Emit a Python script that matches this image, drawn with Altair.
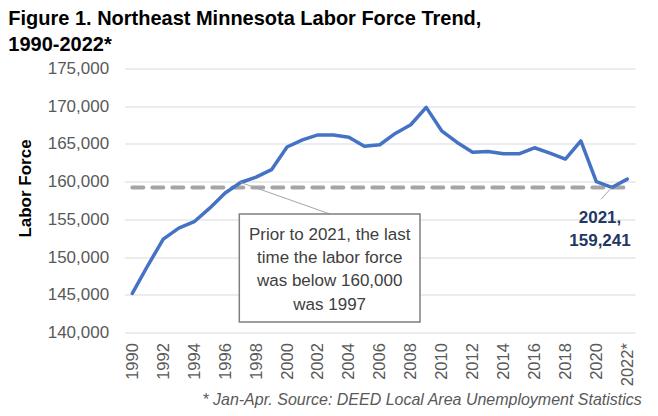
import altair as alt
import pandas as pd

# ---------------- data ----------------
years = list(range(1990, 2023))
labor_force = [145200, 148900, 152400, 153850, 154700, 156500, 158500, 159900,
               160600, 161600, 164600, 165550, 166200, 166200, 165900, 164700,
               164900, 166400, 167550, 169850, 166750, 165200, 163900, 164000,
               163700, 163700, 164500, 163800, 163000, 165400, 160000, 159241,
               160340]
tick_years = years[::2]
tick_labels = [str(y) for y in tick_years[:-1]] + ["2022*"]
y_ticks = [140000, 145000, 150000, 155000, 160000, 165000, 170000, 175000]

ref_year = 2021
ref_value = labor_force[years.index(ref_year)]
callout_year = 1997

title_lines = ["Figure 1. Northeast Minnesota Labor Force Trend,", "1990-2022*"]
y_title = "Labor Force"
footnote = "* Jan-Apr. Source: DEED Local Area Unemployment Statistics"
box_lines = ["Prior to 2021, the last", "time the labor force",
             "was below 160,000", "was 1997"]
ref_lines = ["2021,", "159,241"]

df = pd.DataFrame({"year": years, "value": labor_force})

# ---------------- styling ----------------
FONT = "Liberation Sans"
W, H = 510.4, 264.2
LABEL_COLOR = "#595959"

label_expr = " : ".join(
    f"datum.value == {y} ? '{l}'" for y, l in zip(tick_years, tick_labels)
) + " : ''"

x_enc = alt.X(
    "year:Q",
    scale=alt.Scale(domain=[years[0] - 0.5, years[-1] + 0.5], nice=False, zero=False),
    axis=alt.Axis(
        values=tick_years, labelExpr=label_expr, labelAngle=270,
        labelFontSize=16.5, labelColor=LABEL_COLOR, labelPadding=10,
        ticks=False, domain=False, grid=False,
        title=footnote, titleX=516.7, titleY=72.3, titleAlign="right",
        titleBaseline="alphabetic", titleAngle=0, titleFontStyle="italic",
        titleFontWeight="normal", titleFontSize=16, titleColor=LABEL_COLOR,
    ),
)
y_scale = alt.Scale(domain=[y_ticks[0], y_ticks[-1]], nice=False, zero=False)
y_axis = alt.Axis(
    values=y_ticks, format=",.0f", labelFontSize=17, labelColor=LABEL_COLOR,
    labelPadding=16, ticks=False, domain=False, grid=True, gridColor="#D9D9D9",
    gridWidth=1, title=y_title, titleFontSize=17, titleFontWeight="bold",
    titleColor="#000000", titleX=-99, titleY=119.5, titleAngle=270,
    titleAlign="center", titleBaseline="middle",
)
y_enc = alt.Y("value:Q", scale=y_scale, axis=y_axis)
y_ref = alt.Y("ref:Q", scale=y_scale, axis=y_axis)

ref_line = alt.Chart(df).transform_calculate(
    ref=str(ref_value)
).mark_line(
    color="#A5A5A5", strokeWidth=4, strokeDash=[11, 9], strokeCap="round"
).encode(x=x_enc, y=y_ref)

main_line = alt.Chart(df).mark_line(
    color="#4472C4", strokeWidth=3.5, strokeJoin="round", strokeCap="round"
).encode(x=x_enc, y=y_enc)

leader1 = alt.Chart(df).transform_filter(
    alt.datum.year == callout_year
).mark_rule(color="#A5A5A5", strokeWidth=1).encode(
    x=x_enc, y=y_enc, x2=alt.value(205.4), y2=alt.value(145.5)
)

leader2 = alt.Chart(df).transform_filter(
    alt.datum.year == ref_year
).mark_rule(color="#A5A5A5", strokeWidth=1).encode(
    x=x_enc, y=y_enc, x2=alt.value(476.4), y2=alt.value(130.8)
)

one = pd.DataFrame({"k": [0]})
box = alt.Chart(one).mark_rect(
    fill="white", stroke="#7F7F7F", strokeWidth=1.5
).encode(x=alt.value(114.7), x2=alt.value(295.4), y=alt.value(145.5), y2=alt.value(253.5))

box_text = alt.Chart(one).mark_text(
    text=box_lines, align="center", baseline="top", fontSize=17,
    lineHeight=23.2, color="#404040", font=FONT
).encode(x=alt.value(205.1), y=alt.value(158.6))

ref_text = alt.Chart(one).mark_text(
    text=ref_lines, align="center", baseline="top", fontSize=17,
    fontWeight="bold", lineHeight=23.3, color="#1F3864", font=FONT
).encode(x=alt.value(475.4), y=alt.value(141.4))

chart = alt.layer(
    ref_line, main_line, leader1, leader2, box, box_text, ref_text
).properties(
    width=W, height=H,
    title=alt.TitleParams(
        text=title_lines, anchor="start", frame="group", dx=-116.3, dy=0,
        fontSize=20, fontWeight="bold", color="#000000", lineHeight=26.7,
        font=FONT,
    ),
    autosize=alt.AutoSizeParams(type="none"),
    padding={"left": 116.6, "top": 60.5, "right": 15, "bottom": 75},
).configure(font=FONT).configure_view(strokeWidth=0)

chart.save("out.html", embed_options={"renderer": "svg", "actions": False})
